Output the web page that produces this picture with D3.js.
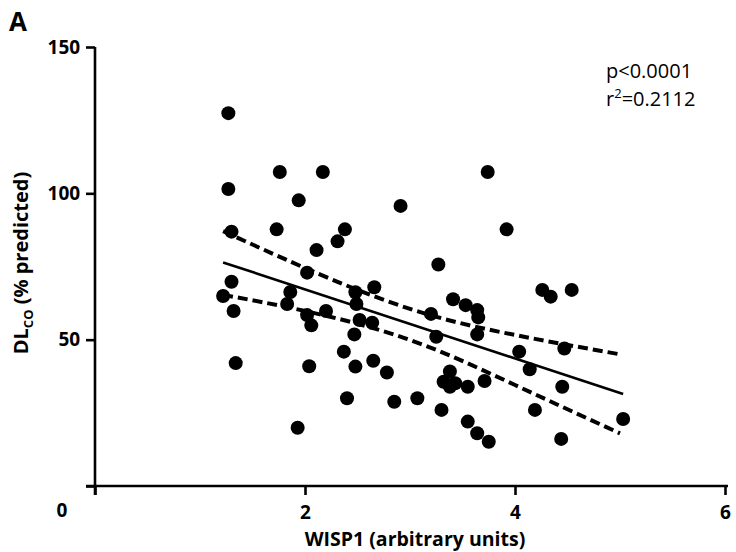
<!DOCTYPE html>
<html><head><meta charset="utf-8">
<script src="https://cdn.jsdelivr.net/npm/d3@7"></script>
<style>body{margin:0;background:#fff}svg{display:block}text{font-family:"Open Sans","Noto Sans",sans-serif}</style>
</head><body>
<script>
const wisp1 = [1.27,1.27,1.30,1.30,1.22,1.32,1.34,1.76,2.17,1.73,1.94,2.91,2.38,2.31,2.11,2.02,2.66,2.48,1.86,1.83,2.02,2.06,2.20,2.49,2.52,2.64,2.47,2.37,2.48,2.65,2.78,2.04,2.40,2.85,3.07,3.30,1.93,3.27,3.20,3.25,3.41,3.53,3.64,3.65,3.64,3.92,3.74,4.26,4.34,4.54,4.04,4.47,4.14,4.45,3.38,3.32,3.43,3.38,3.55,3.71,4.19,3.55,3.64,3.75,4.44,5.03];
const dlco  = [127.4,101.5,86.9,69.8,64.9,59.8,42.0,107.3,107.3,87.7,97.6,95.7,87.7,83.6,80.6,72.9,67.9,66.2,66.3,62.2,58.4,54.9,59.8,62.2,56.7,55.8,51.8,45.9,40.8,42.8,38.8,40.9,30.0,28.8,30.0,26.0,19.9,75.7,58.8,51.0,63.8,61.8,60.1,57.6,51.8,87.7,107.3,67.0,64.7,67.0,45.9,47.0,39.9,33.9,39.1,35.6,35.1,33.9,33.9,35.9,26.0,22.0,18.0,15.1,16.1,22.9];
const fitX = [1.22, 5.03];
const fitY = [76.4, 31.4];
const bandX = [1.22, 2.0, 3.0, 4.0, 5.0];
const upperY = [87.1, 74.5, 60.5, 51.6, 45.0];
const lowerY = [65.3, 59.8, 49.9, 34.5, 18.0];
const xTicks = [2, 4, 6];
const yTicks = [50, 100, 150];

const W = 736, H = 552;
const svg = d3.select("body").append("svg").attr("width", W).attr("height", H);
const x = d3.scaleLinear().domain([0, 6]).range([95, 725]);
const y = d3.scaleLinear().domain([0, 150]).range([486, 47]);

// axes
const xAxis = svg.append("g").attr("transform", `translate(0,${y(0)})`)
  .call(d3.axisBottom(x).tickValues([0, ...xTicks]).tickSize(9).tickSizeOuter(0).tickFormat(d => d === 0 ? "" : d));
xAxis.select(".domain").attr("d", `M${x(0)-9},0H${x(6)+3}`);
const yAxis = svg.append("g").attr("transform", `translate(${x(0)},0)`)
  .call(d3.axisLeft(y).tickValues([0, ...yTicks]).tickSize(9).tickSizeOuter(0).tickFormat(d => d === 0 ? "" : d));
yAxis.select(".domain").attr("d", `M0,${y(150)}V${y(0)+9}`);
[xAxis, yAxis].forEach(g => {
  g.selectAll(".domain,line").attr("stroke", "#000").attr("stroke-width", 2.6);
  g.selectAll("text").attr("fill", "#000").attr("font-size", 19).attr("font-weight", "bold");
});
xAxis.selectAll("text").attr("dy", "1.1em");
yAxis.selectAll("text").attr("dx", "-0.15em");
svg.append("text").attr("x", 62).attr("y", 517).attr("text-anchor", "middle")
  .attr("font-size", 19).attr("font-weight", "bold").text("0");

// regression line and bands
const line = d3.line().x(d => x(d[0])).y(d => y(d[1]));
svg.append("path").datum(fitX.map((v, i) => [v, fitY[i]])).attr("d", line)
  .attr("fill", "none").attr("stroke", "#000").attr("stroke-width", 2.6);
const curve = d3.line().x(d => x(d[0])).y(d => y(d[1])).curve(d3.curveNatural);
[upperY, lowerY].forEach(arr => {
  svg.append("path").datum(bandX.map((v, i) => [v, arr[i]])).attr("d", curve)
    .attr("fill", "none").attr("stroke", "#000").attr("stroke-width", 4)
    .attr("stroke-dasharray", "10,5");
});

// points
svg.append("g").selectAll("circle").data(wisp1.map((v, i) => [v, dlco[i]])).join("circle")
  .attr("cx", d => x(d[0])).attr("cy", d => y(d[1])).attr("r", 7).attr("fill", "#000");

// titles
svg.append("text").attr("x", 415).attr("y", 546).attr("text-anchor", "middle")
  .attr("font-size", 19.5).attr("font-weight", "bold").text("WISP1 (arbitrary units)");
const yt = svg.append("text").attr("transform", "translate(28,263) rotate(-90)").attr("text-anchor", "middle")
  .attr("font-size", 20).attr("font-weight", "bold");
yt.append("tspan").text("DL");
yt.append("tspan").attr("font-size", 13).attr("dy", 5).text("CO");
yt.append("tspan").attr("dy", -5).text(" (% predicted)");
svg.append("text").attr("x", 9).attr("y", 31).attr("font-size", 26).attr("font-weight", "bold").text("A");

const ann = svg.append("g").attr("font-size", 20);
ann.append("text").attr("x", 606).attr("y", 78).text("p<0.0001");
const r2 = ann.append("text").attr("x", 606).attr("y", 106);
r2.append("tspan").text("r");
r2.append("tspan").attr("font-size", 13).attr("dy", -8).text("2");
r2.append("tspan").attr("dy", 8).text("=0.2112");
</script>
</body></html>
